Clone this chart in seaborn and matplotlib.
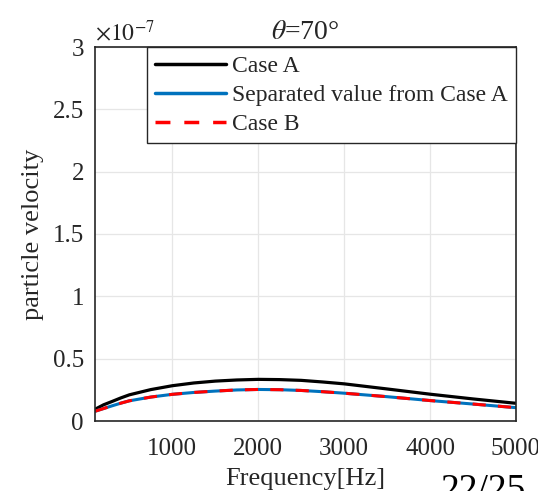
import numpy as np
import pandas as pd
import matplotlib
matplotlib.use("Agg")
import matplotlib.pyplot as plt
import seaborn as sns

freq = [100, 200, 300, 400, 500, 750, 1000, 1250, 1500, 1750, 2000, 2250, 2500, 2750, 3000, 3500, 4000, 4500, 5000]
case_a = [0.094, 0.13, 0.157, 0.185, 0.21, 0.252, 0.283, 0.305, 0.32, 0.329, 0.334, 0.332, 0.326, 0.313, 0.298, 0.257, 0.215, 0.177, 0.142]
separated = [0.078, 0.1, 0.122, 0.143, 0.162, 0.192, 0.214, 0.229, 0.24, 0.249, 0.253, 0.251, 0.245, 0.235, 0.223, 0.195, 0.164, 0.136, 0.107]
case_b = [0.078, 0.1, 0.122, 0.143, 0.162, 0.192, 0.214, 0.229, 0.24, 0.249, 0.253, 0.251, 0.245, 0.235, 0.223, 0.195, 0.164, 0.136, 0.107]
series_names = ["Case A", "Separated value from Case A", "Case B"]
x_ticks = [1000, 2000, 3000, 4000, 5000]
y_ticks = [0, 0.5, 1, 1.5, 2, 2.5, 3]

sns.set_style("white")
plt.rcParams['font.family'] = ['Liberation Serif', 'DejaVu Serif']
plt.rcParams['mathtext.fontset'] = 'stix'

df = pd.DataFrame({
    "freq": freq * 3,
    "val": [v * 1e-7 for v in case_a + separated + case_b],
    "series": [series_names[0]] * len(freq) + [series_names[1]] * len(freq) + [series_names[2]] * len(freq),
})

fig = plt.figure(figsize=(5.38, 4.91), dpi=100)
ax = fig.add_axes([95 / 538, 70 / 491, 421 / 538, 374 / 491])

palette = {series_names[0]: "#000000", series_names[1]: "#0072BD", series_names[2]: "#FF0000"}
styles = [(series_names[0], 2.3, "-"), (series_names[1], 2.2, "-"), (series_names[2], 2.2, (0, (4.3, 4.0)))]
for name, lw, ls in styles:
    sub = df[df.series == name]
    sns.lineplot(data=sub, x="freq", y="val", color=palette[name], lw=lw, linestyle=ls, ax=ax, label=name)

ax.set_xlim(100, 5000)
ax.set_ylim(0, 3e-7)
ax.set_xticks(x_ticks)
ax.set_xticklabels([str(t) for t in x_ticks])
ax.set_yticks([t * 1e-7 for t in y_ticks])
ax.set_yticklabels([f"{t:g}" for t in y_ticks])
ax.tick_params(direction="in", length=4, width=1, labelsize=18, colors="#262626")
ax.tick_params(axis="x", pad=12)
ax.tick_params(axis="y", pad=8)
ax.grid(True, color="#e6e6e6", lw=0.9)
ax.set_axisbelow(True)
for s in ax.spines.values():
    s.set_color("#262626")
    s.set_linewidth(1.2)

ax.set_xlabel("Frequency[Hz]", fontsize=19, color="#262626", labelpad=6)
ax.set_ylabel("particle velocity", fontsize=19, color="#262626", labelpad=6)
ax.set_title(r"$\theta$=70°", fontsize=20, color="#262626", pad=6)
ax.text(0.0, 1.005, r"$\times10^{-7}$", transform=ax.transAxes, fontsize=17, color="#262626",
        ha="left", va="bottom")

leg = ax.legend(loc="upper right", borderaxespad=0, fontsize=17, frameon=True, fancybox=False,
                handlelength=3.0, handletextpad=0.25, labelspacing=0.32, borderpad=0.35)
leg.get_frame().set_edgecolor("#262626")
leg.get_frame().set_linewidth(1.0)
leg.get_frame().set_alpha(1)
for line in leg.get_lines():
    line.set_linewidth(2.5)

fig.text(440 / 538, 0.0, "22/25", fontsize=27, color="#000000", ha="left", va="center")

fig.savefig("out.png", dpi=100)
